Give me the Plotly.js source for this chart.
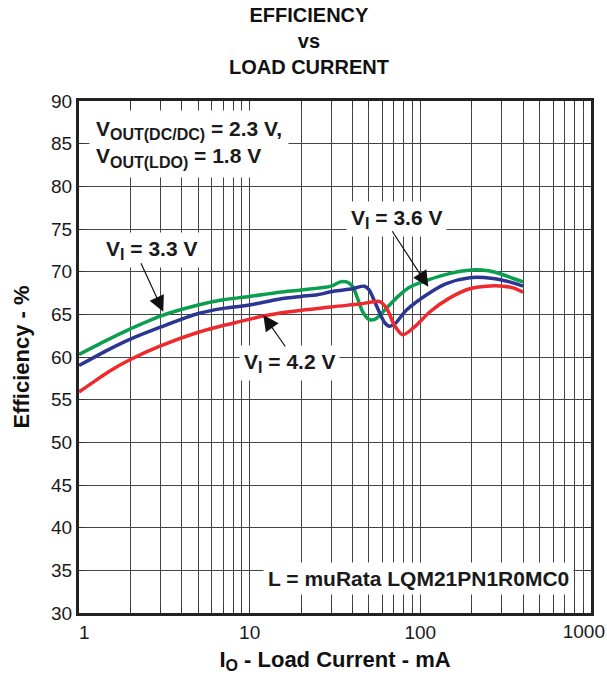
<!DOCTYPE html>
<html>
<head>
<meta charset="utf-8">
<script src="https://cdn.plot.ly/plotly-3.0.1.min.js"></script>
<style>html,body{margin:0;padding:0;background:#fff;}#chart{width:607px;height:676px;}</style>
</head>
<body>
<div id="chart"></div>
<script>
// Load current (mA) and efficiency (%) per input voltage
const currentV33 = [1, 1.5, 2, 3, 5, 7, 10, 15, 20, 30, 34, 37, 40, 43, 46, 50, 54, 58, 66, 75, 87, 110, 150, 200, 250, 300, 350, 400];
const effV33     = [60.3, 62.1, 63.3, 64.8, 66.1, 66.7, 67.1, 67.6, 67.85, 68.3, 68.8, 68.8, 68.3, 66.8, 65.3, 64.4, 64.4, 64.9, 66.1, 67.2, 68.2, 69.0, 69.8, 70.2, 70.1, 69.7, 69.2, 68.8];

const currentV36 = [1, 1.5, 2, 3, 5, 7, 10, 15, 20, 25, 31, 40, 47, 50, 54, 58, 62, 66, 71, 83, 109, 142, 195, 267, 334, 400];
const effV36     = [59.0, 60.9, 62.1, 63.5, 65.1, 65.7, 66.1, 66.8, 67.1, 67.3, 67.7, 68.0, 68.3, 67.9, 66.5, 65.1, 64.0, 63.6, 63.9, 65.5, 67.3, 68.6, 69.3, 69.2, 68.8, 68.3];

const currentV42 = [1, 1.2, 1.5, 2, 3, 5, 7, 9, 12, 17, 31, 44, 58, 63.5, 71, 79, 91, 114, 148, 195, 244, 307, 350, 400];
const effV42     = [55.9, 57.0, 58.3, 59.7, 61.3, 62.9, 63.7, 64.2, 64.8, 65.3, 65.9, 66.2, 66.5, 65.7, 63.6, 62.6, 63.4, 65.3, 66.9, 68.0, 68.3, 68.3, 68.1, 67.6];

const SUB = (s) => "<sub><span style='font-size:16px'>" + s + "</span></sub>";
const seriesNames = ["V" + SUB("I") + " = 3.3 V", "V" + SUB("I") + " = 3.6 V", "V" + SUB("I") + " = 4.2 V"];
const seriesColors = ["#0a9e4f", "#2b3592", "#ee2a2f"];

const NB = "\u00a0";
const xDecadeValues = [1, 10, 100, 1000];
const xDecadeLabels = [NB + NB + "1", "10", "100", "1000"];
const yTickValues = [30, 35, 40, 45, 50, 55, 60, 65, 70, 75, 80, 85, 90];

// gridline positions 1..9 per decade (labels on the decades 1, 10, 100)
const xGrid = [];
const xGridText = [];
for (let d = 0; d < 3; d++) {
  for (let m = 1; m <= 9; m++) {
    xGrid.push(m * Math.pow(10, d));
    xGridText.push(m === 1 ? xDecadeLabels[d] : "");
  }
}
xGrid.push(1000); xGridText.push("");

const FONT = "Arial, 'Liberation Sans', Helvetica, sans-serif";

const traces = [
  {x: currentV33, y: effV33, name: "3.3 V", mode: "lines", line: {color: seriesColors[0], width: 3.5, shape: "spline", smoothing: 0.8}},
  {x: currentV36, y: effV36, name: "3.6 V", mode: "lines", line: {color: seriesColors[1], width: 3.5, shape: "spline", smoothing: 0.8}},
  {x: currentV42, y: effV42, name: "4.2 V", mode: "lines", line: {color: seriesColors[2], width: 3.5, shape: "spline", smoothing: 0.8}},
  {x: [], y: [], xaxis: "x2", yaxis: "y", mode: "lines", hoverinfo: "skip", showlegend: false}
];

const txt = {family: FONT, size: 21, color: "#1a1a1a"};
const annBase = {xref: "paper", yref: "paper", showarrow: false, bgcolor: "#ffffff", borderpad: 4, font: txt, align: "left"};
const arrowBase = {xref: "paper", yref: "paper", text: "", showarrow: true, arrowhead: 2, arrowsize: 2.6, arrowwidth: 1.2, arrowcolor: "#111", standoff: 0, startstandoff: 0};

const layout = {
  width: 607, height: 676,
  margin: {l: 79, r: 16, t: 101, b: 63},
  paper_bgcolor: "#ffffff", plot_bgcolor: "#ffffff",
  showlegend: false,
  font: {family: FONT, size: 19, color: "#1a1a1a"},
  title: {
    text: "<b>EFFICIENCY<br>vs<br>LOAD CURRENT</b>",
    font: {family: FONT, size: 20, color: "#111"},
    x: 0.509, xanchor: "center", xref: "container",
    y: 0.968, yanchor: "top", yref: "container"
  },
  xaxis: {
    type: "log", range: [0, 3.0002],
    tickmode: "array", tickvals: xGrid, ticktext: xGridText,
    ticks: "inside", ticklen: 6, tickcolor: "#333", tickwidth: 1,
    showgrid: true, gridcolor: "#444", gridwidth: 1,
    showline: true, linecolor: "#222", linewidth: 3, mirror: "ticks",
    zeroline: false,
    tickfont: {family: FONT, size: 19, color: "#1a1a1a"},
    title: {text: "<b>I" + SUB("O") + " - Load Current - mA</b>", font: {family: FONT, size: 22, color: "#111"}, standoff: 10}
  },
  xaxis2: {
    type: "log", range: [0, 3.0002], overlaying: "x", anchor: "y", side: "bottom",
    tickmode: "array", tickvals: [xDecadeValues[3]], ticktext: [xDecadeLabels[3]],
    ticklabelposition: "outside left", ticklabelshift: 14, ticklabelstandoff: 5,
    ticks: "", showgrid: false, showline: false, zeroline: false,
    tickfont: {family: FONT, size: 19, color: "#1a1a1a"}
  },
  yaxis: {
    range: [30, 90],
    tickmode: "array", tickvals: yTickValues,
    ticks: "inside", ticklen: 6, tickcolor: "#333", tickwidth: 1,
    showgrid: true, gridcolor: "#444", gridwidth: 1,
    showline: true, linecolor: "#222", linewidth: 3, mirror: "ticks",
    zeroline: false,
    tickfont: {family: FONT, size: 19, color: "#1a1a1a"},
    title: {text: "<b>Efficiency - %</b>", font: {family: FONT, size: 22, color: "#111"}, standoff: 16}
  },
  annotations: [
    Object.assign({}, annBase, {text: "<b>V" + SUB("OUT(DC/DC)") + " = 2.3 V,<br>V" + SUB("OUT(LDO)") + " = 1.8 V</b>", x: 0.0195, y: 0.916, xanchor: "left", yanchor: "middle", borderpad: 6}),
    Object.assign({}, annBase, {text: "<b>" + seriesNames[0] + "</b>", x: 0.043, y: 0.709, xanchor: "left", yanchor: "middle"}),
    Object.assign({}, annBase, {text: "<b>" + seriesNames[1] + "</b>", x: 0.5215, y: 0.7695, xanchor: "left", yanchor: "middle"}),
    Object.assign({}, annBase, {text: "<b>" + seriesNames[2] + "</b>", x: 0.3125, y: 0.489, xanchor: "left", yanchor: "middle"}),
    Object.assign({}, annBase, {text: "<b>L = muRata LQM21PN1R0MC0</b>", x: 0.36, y: 0.067, xanchor: "left", yanchor: "middle"}),
    Object.assign({}, arrowBase, {x: 0.1646, y: 0.5885, ax: -23, ay: -50}),
    Object.assign({}, arrowBase, {x: 0.6822, y: 0.6373, ax: -37, ay: -57}),
    Object.assign({}, arrowBase, {x: 0.36, y: 0.582, ax: 23, ay: 33})
  ]
};

Plotly.newPlot("chart", traces, layout, {staticPlot: true, displayModeBar: false});
</script>
</body>
</html>
